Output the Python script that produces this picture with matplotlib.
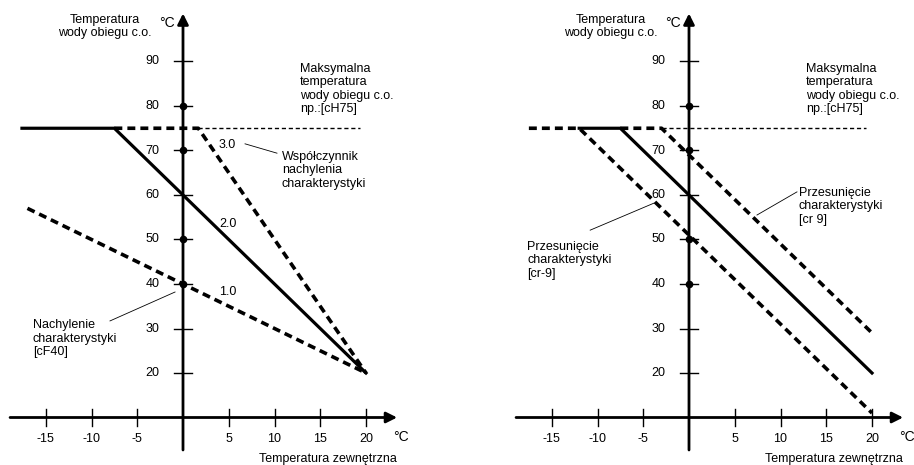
import matplotlib
matplotlib.use("Agg")
import matplotlib.pyplot as plt

plt.rcParams['font.family'] = ['Liberation Sans', 'DejaVu Sans']

# ---- data ----
x_ticks = [-15, -10, -5, 5, 10, 15, 20]
y_ticks = [20, 30, 40, 50, 60, 70, 80, 90]
dot_values = [40, 50, 70, 80]

# left chart: heating curves for different slopes
slope1_x = [-17, 20]
slope1_y = [57, 20]
slope2_x = [-17.6, -7.5, 20]
slope2_y = [75, 75, 20]
slope3_x = [-7.5, 1.67, 20]
slope3_y = [75, 75, 20]
max_left_x = [1.67, 19.3]
max_left_y = [75, 75]

# right chart: shifted curves
shift_m9_x = [-17.5, -12, 20]
shift_m9_y = [75, 75, 11]
shift_0_x = [-12, -7.5, 20]
shift_0_y = [75, 75, 20]
shift_p9_x = [-7.5, -3, 20]
shift_p9_y = [75, 75, 29]
max_right_x = [-3, 19.3]
max_right_y = [75, 75]

FS = 9
W, H = 914, 465
fig = plt.figure(figsize=(W / 100, H / 100), dpi=100)

ppx = 9.15   # px per x unit
ppy = 4.45   # px per y unit


def make_axes(x0_px):
    # x0_px: pixel of x=0 ; y=60 at pixel 195 from top
    xmin, xmax = -20, 24.5
    ymin, ymax = 0, 104
    left = x0_px + xmin * ppx
    width = (xmax - xmin) * ppx
    top = 195 - (ymax - 60) * ppy
    height = (ymax - ymin) * ppy
    ax = fig.add_axes([left / W, 1 - (top + height) / H, width / W, height / H])
    ax.set_xlim(xmin, xmax)
    ax.set_ylim(ymin, ymax)
    ax.axis('off')
    return ax


def draw_frame(ax):
    # axes with arrows
    ax.annotate('', xy=(23.4, 10), xytext=(-18.9, 10),
                arrowprops=dict(arrowstyle='-|>', lw=2.0, color='k',
                                mutation_scale=16, shrinkA=0, shrinkB=0))
    ax.annotate('', xy=(0, 100.8), xytext=(0, 2.7),
                arrowprops=dict(arrowstyle='-|>', lw=2.0, color='k',
                                mutation_scale=16, shrinkA=0, shrinkB=0))
    for t in y_ticks:
        ax.plot([-1, 1], [t, t], color='k', lw=1.0)
        ax.text(-2.6, t, str(t), ha='right', va='center', fontsize=FS)
    for t in x_ticks:
        ax.plot([t, t], [8, 12], color='k', lw=1.0)
        ax.text(t, 5.2, str(t), ha='center', va='center', fontsize=FS)
    ax.plot([0] * len(dot_values), dot_values, 'o', color='k', ms=4.5)
    ax.text(-8.5, 97.8, 'Temperatura\nwody obiegu c.o.', ha='center',
            va='center', fontsize=FS, linespacing=1.15)
    ax.text(-0.9, 98.6, '°C', ha='right', va='center', fontsize=FS + 1)
    ax.text(23.0, 5.6, '°C', ha='left', va='center', fontsize=FS + 1)
    ax.text(15.85, 0.6, 'Temperatura zewnętrzna', ha='center', va='center',
            fontsize=FS)
    ax.text(12.8, 89.7, 'Maksymalna\ntemperatura\nwody obiegu c.o.\nnp.:[cH75]',
            ha='left', va='top', fontsize=FS, linespacing=1.15)


thick_dash = (0, (2.2, 1.4))
thin_dash = (0, (3, 2))

# ---- left chart ----
axL = make_axes(183)
draw_frame(axL)
axL.plot(max_left_x, max_left_y, color='k', lw=1.0, linestyle=thin_dash)
axL.plot(slope1_x, slope1_y, color='k', lw=2.6, linestyle=thick_dash)
axL.plot(slope3_x, slope3_y, color='k', lw=2.6, linestyle=thick_dash)
axL.plot(slope2_x, slope2_y, color='k', lw=2.3, solid_joinstyle='miter')
axL.text(3.9, 71.2, '3.0', ha='left', va='center', fontsize=FS)
axL.text(4.0, 53.5, '2.0', ha='left', va='center', fontsize=FS)
axL.text(3.9, 38.2, '1.0', ha='left', va='center', fontsize=FS)
axL.text(10.8, 69.9, 'Współczynnik\nnachylenia\ncharakterystyki', ha='left',
         va='top', fontsize=FS, linespacing=1.15)
axL.plot([6.78, 10.27], [71.5, 69.4], color='k', lw=0.6)
axL.text(-16.4, 32.1, 'Nachylenie\ncharakterystyki\n[cF40]', ha='left',
         va='top', fontsize=FS, linespacing=1.15)
axL.plot([-7.98, -0.87], [31.7, 38.2], color='k', lw=0.6)

# ---- right chart ----
axR = make_axes(689)
draw_frame(axR)
axR.plot(max_right_x, max_right_y, color='k', lw=1.0, linestyle=thin_dash)
axR.plot(shift_m9_x, shift_m9_y, color='k', lw=2.6, linestyle=thick_dash)
axR.plot(shift_p9_x, shift_p9_y, color='k', lw=2.6, linestyle=thick_dash)
axR.plot(shift_0_x, shift_0_y, color='k', lw=2.3, solid_joinstyle='miter')
axR.text(12.0, 61.8, 'Przesunięcie\ncharakterystyki\n[cr 9]', ha='left',
         va='top', fontsize=FS, linespacing=1.15)
axR.plot([7.43, 11.8], [55.5, 60.7], color='k', lw=0.6)
axR.text(-17.7, 49.7, 'Przesunięcie\ncharakterystyki\n[cr-9]', ha='left',
         va='top', fontsize=FS, linespacing=1.15)
axR.plot([-10.8, -3.8], [52.1, 58.2], color='k', lw=0.6)

fig.savefig('out.png', dpi=100, facecolor='white')
